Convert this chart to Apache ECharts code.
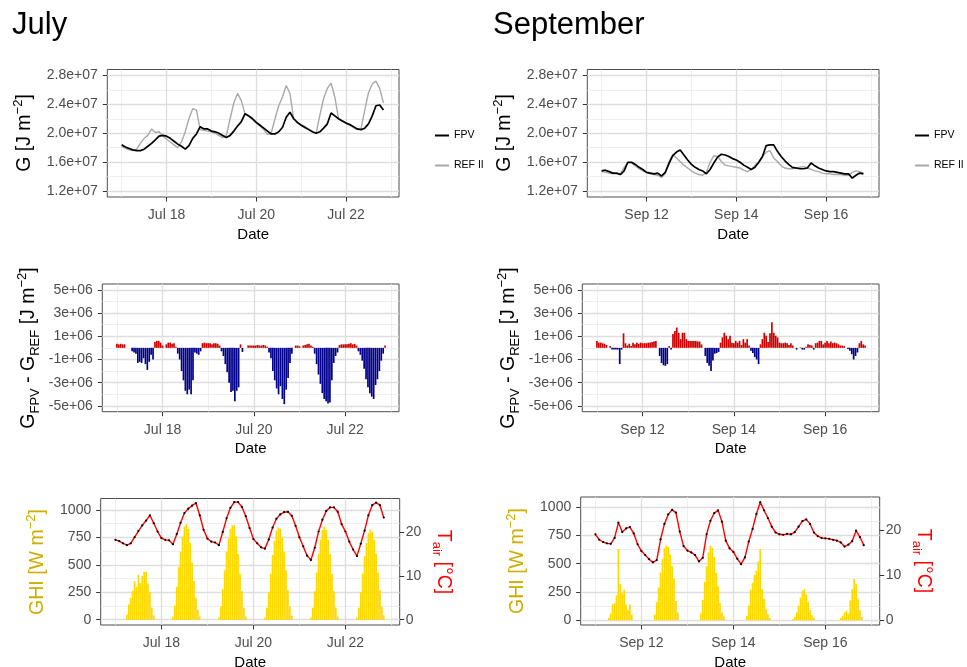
<!DOCTYPE html>
<html>
<head>
<meta charset="utf-8">
<title>FPV heat content, July and September</title>
<script src="https://cdn.jsdelivr.net/npm/echarts@6/dist/echarts.min.js"></script>
<style>
  html, body { margin: 0; padding: 0; background: #ffffff; }
  #chart { width: 967px; height: 667px; }
</style>
</head>
<body>
<div id="chart"></div>
<script>
// ---- time frame: x values are fractional days of the month ----
const julyStart = 17;            // first sample: 17 Jul 00:00
const septStart = 11;            // first sample: 11 Sep 00:00
const julyRange = [16.68, 23.18];
const septRange = [10.68, 17.18];
const julyDateTicks = [18, 20, 22];
const julyDateMinor = [17, 19, 21, 23];
const septDateTicks = [12, 14, 16];
const septDateMinor = [11, 13, 15, 17];

// ---- value axes ----
const gTicks = [1.2e7, 1.6e7, 2.0e7, 2.4e7, 2.8e7];
const gMinor = [1.4e7, 1.8e7, 2.2e7, 2.6e7];
const dTicks = [-5e6, -3e6, -1e6, 1e6, 3e6, 5e6];
const dMinor = [-4e6, -2e6, 0, 2e6, 4e6];
const ghiTicks = [0, 250, 500, 750, 1000];
const ghiMinor = [125, 375, 625, 875];
const tairTicks = [0, 10, 20];

// ---- heat content G [J m-2], two-hourly from 00:00 ----
const julyFPV = [
  1.84e7,1.81e7,1.79e7,1.77e7,1.76e7,1.76e7,1.78e7,1.82e7,1.86e7,1.91e7,1.96e7,1.97e7,
  1.96e7,1.93e7,1.89e7,1.85e7,1.82e7,1.78e7,1.83e7,1.93e7,1.99e7,2.09e7,2.06e7,2.06e7,
  2.03e7,2.02e7,2.00e7,1.97e7,1.94e7,1.97e7,2.03e7,2.10e7,2.16e7,2.27e7,2.24e7,2.20e7,
  2.15e7,2.11e7,2.07e7,2.03e7,1.99e7,1.99e7,2.02e7,2.08e7,2.22e7,2.29e7,2.20e7,2.15e7,
  2.11e7,2.08e7,2.05e7,2.02e7,2.00e7,2.02e7,2.07e7,2.13e7,2.28e7,2.24e7,2.20e7,2.17e7,
  2.14e7,2.12e7,2.09e7,2.06e7,2.05e7,2.07e7,2.13e7,2.24e7,2.38e7,2.39e7,2.32e7
];
const julyREF = [
  1.82e7,1.79e7,1.77e7,1.76e7,1.78e7,1.86e7,1.93e7,1.97e7,2.06e7,2.01e7,2.02e7,1.96e7,
  1.92e7,1.88e7,1.84e7,1.80e7,1.88e7,2.02e7,2.20e7,2.34e7,2.32e7,2.05e7,2.04e7,2.03e7,
  2.02e7,2.00e7,1.97e7,1.94e7,1.97e7,2.20e7,2.42e7,2.55e7,2.45e7,2.26e7,2.23e7,2.19e7,
  2.14e7,2.10e7,2.05e7,1.98e7,2.00e7,2.20e7,2.38e7,2.50e7,2.66e7,2.55e7,2.20e7,2.14e7,
  2.12e7,2.09e7,2.06e7,2.02e7,2.00e7,2.25e7,2.48e7,2.62e7,2.69e7,2.50e7,2.20e7,2.17e7,
  2.14e7,2.11e7,2.08e7,2.05e7,2.06e7,2.32e7,2.56e7,2.68e7,2.72e7,2.62e7,2.42e7
];
const septFPV = [
  1.48e7,1.49e7,1.47e7,1.45e7,1.45e7,1.43e7,1.48e7,1.60e7,1.60e7,1.57e7,1.53e7,1.50e7,
  1.46e7,1.45e7,1.44e7,1.45e7,1.41e7,1.46e7,1.58e7,1.69e7,1.74e7,1.77e7,1.70e7,1.63e7,
  1.57e7,1.53e7,1.50e7,1.48e7,1.44e7,1.50e7,1.59e7,1.67e7,1.71e7,1.70e7,1.68e7,1.65e7,
  1.63e7,1.60e7,1.56e7,1.53e7,1.50e7,1.53e7,1.60e7,1.68e7,1.83e7,1.84e7,1.84e7,1.75e7,
  1.68e7,1.62e7,1.57e7,1.53e7,1.52e7,1.51e7,1.51e7,1.52e7,1.59e7,1.55e7,1.52e7,1.50e7,
  1.48e7,1.47e7,1.47e7,1.46e7,1.45e7,1.44e7,1.44e7,1.38e7,1.42e7,1.45e7,1.44e7
];
const septREF = [
  1.47e7,1.46e7,1.45e7,1.44e7,1.44e7,1.44e7,1.53e7,1.59e7,1.59e7,1.55e7,1.51e7,1.48e7,
  1.46e7,1.44e7,1.43e7,1.42e7,1.39e7,1.44e7,1.61e7,1.70e7,1.66e7,1.61e7,1.56e7,1.52e7,
  1.48e7,1.45e7,1.43e7,1.42e7,1.46e7,1.60e7,1.69e7,1.68e7,1.61e7,1.56e7,1.55e7,1.54e7,
  1.53e7,1.52e7,1.49e7,1.47e7,1.50e7,1.56e7,1.59e7,1.68e7,1.74e7,1.76e7,1.66e7,1.61e7,
  1.55e7,1.52e7,1.51e7,1.51e7,1.52e7,1.53e7,1.54e7,1.52e7,1.50e7,1.48e7,1.47e7,1.45e7,
  1.44e7,1.44e7,1.43e7,1.43e7,1.43e7,1.42e7,1.42e7,1.46e7,1.48e7,1.47e7,1.45e7
];

// ---- G_FPV - G_REF [J m-2], hourly from 00:00 ----
const julyDiff = [
  0.35e6,0.3e6,0.35e6,0.3e6,0.3e6,0,0,0,-0.3e6,-0.4e6,-0.5e6,-1.3e6,-1.2e6,-1.3e6,-0.9e6,-1.4e6,-1.9e6,-1.2e6,-0.6e6,-1.0e6,0.5e6,0.6e6,0.6e6,0.45e6,
  0.2e6,0,0.3e6,0.45e6,0.45e6,0.35e6,0.4e6,0.1e6,-0.5e6,-1.0e6,-2.0e6,-2.8e6,-3.7e6,-4.0e6,-3.6e6,-4.0e6,-2.8e6,-0.4e6,-0.5e6,-0.6e6,-0.3e6,0.4e6,0.45e6,0.4e6,
  0.4e6,0.4e6,0.3e6,0.4e6,0.4e6,0.35e6,0.2e6,-0.3e6,-0.7e6,-1.4e6,-2.1e6,-3.0e6,-3.8e6,-3.7e6,-4.6e6,-3.7e6,-3.4e6,0.3e6,-0.35e6,0,0,0.2e6,0.2e6,0.2e6,
  0.2e6,0.2e6,0.25e6,0.2e6,0.2e6,0.25e6,0.2e6,0.1e6,-0.4e6,-0.9e6,-2.0e6,-2.8e6,-3.5e6,-4.0e6,-3.3e6,-4.4e6,-4.85e6,-3.6e6,-2.6e6,-1.3e6,-0.5e6,0,0.2e6,0.2e6,
  0.15e6,0,0.2e6,0.25e6,0.3e6,0.35e6,0.2e6,0.1e6,-0.5e6,-1.4e6,-2.3e6,-3.1e6,-3.9e6,-4.4e6,-4.6e6,-4.8e6,-4.7e6,-2.8e6,-1.3e6,-0.7e6,-0.4e6,0.25e6,0.3e6,0.3e6,
  0.3e6,0.3e6,0.35e6,0.4e6,0.3e6,0.35e6,0.2e6,-0.3e6,-0.6e6,-1.1e6,-1.8e6,-2.7e6,-3.4e6,-3.9e6,-4.2e6,-4.4e6,-3.2e6,-2.7e6,-2.0e6,-1.1e6,-0.5e6,0.2e6
];
const septDiff = [
  0.6e6,0.45e6,0.45e6,0.4e6,0.35e6,0.25e6,0,0.15e6,-0.15e6,-0.15e6,-0.15e6,-0.15e6,-1.4e6,-0.15e6,1.25e6,0.4e6,0.2e6,0.35e6,0.15e6,0.45e6,0.3e6,0.45e6,0.35e6,0.45e6,
  0.4e6,0.4e6,0.4e6,0.45e6,0.45e6,0.5e6,0.55e6,0.6e6,0,-0.7e6,-1.3e6,-1.5e6,-1.55e6,-1.4e6,0.15e6,-0.15e6,1.2e6,1.45e6,1.75e6,1.3e6,0.75e6,1.3e6,1.3e6,0.75e6,
  0.6e6,0.6e6,0.6e6,0.6e6,0.6e6,0.55e6,0.55e6,0.3e6,0,-0.7e6,-1.3e6,-1.55e6,-2.0e6,-1.1e6,-0.5e6,-0.45e6,-0.35e6,0.45e6,0.9e6,1.3e6,1.05e6,0.75e6,1.05e6,0.45e6,
  0.4e6,0.6e6,0.45e6,0.6e6,0.25e6,0.75e6,0.45e6,0.75e6,0.2e6,-0.25e6,-0.45e6,-0.8e6,-1.0e6,-1.4e6,0.3e6,0.75e6,1.3e6,1.05e6,0.5e6,1.25e6,2.2e6,1.3e6,1.05e6,0.9e6,
  0.45e6,0.4e6,0.4e6,0.45e6,0.4e6,0.25e6,0.4e6,0.2e6,0,-0.15e6,0,0.05e6,-0.15e6,-0.15e6,0.1e6,0.3e6,0.25e6,0.2e6,-0.15e6,0.4e6,0.45e6,0.6e6,0.6e6,0.3e6,
  0.45e6,0.6e6,0.4e6,0.55e6,0.4e6,0.45e6,0.4e6,0.3e6,0.2e6,0.2e6,0.15e6,0,-0.1e6,-0.25e6,-0.55e6,-1.0e6,-0.7e6,-0.4e6,0.4e6,0.6e6,0.3e6,0.2e6
];

// ---- global horizontal irradiance GHI [W m-2], hourly from 00:00 ----
const julyGHI = [
  0,0,0,0,0,0,45,140,200,265,350,300,410,335,400,435,440,330,250,110,40,0,0,0,
  0,0,0,0,0,0,30,130,300,480,620,760,850,870,830,700,520,350,200,90,30,0,0,0,
  0,0,0,0,0,0,20,120,280,450,620,740,830,860,860,760,600,420,260,110,30,0,0,0,
  0,0,0,0,0,0,20,110,250,420,590,720,810,840,830,750,620,450,270,120,40,0,0,0,
  0,0,0,0,0,0,20,110,260,430,600,730,820,850,820,730,600,420,260,110,30,0,0,0,
  0,0,0,0,0,0,20,110,250,420,580,700,790,820,800,730,600,430,270,120,40,0
];
const septGHI = [
  0,0,0,0,0,0,0,20,60,140,150,220,630,320,240,270,140,90,140,50,0,0,0,0,
  0,0,0,0,0,0,0,50,160,290,420,540,640,660,650,580,480,370,170,70,0,0,0,0,
  0,0,0,0,0,0,0,60,180,340,480,600,660,640,560,420,300,150,70,35,0,0,0,0,
  0,0,0,0,0,0,0,40,130,270,330,400,440,520,630,275,190,100,55,20,0,0,0,0,
  0,0,0,0,0,0,0,10,30,70,130,200,260,275,230,160,90,45,20,0,0,0,0,0,
  0,0,0,0,0,0,0,0,20,40,70,85,60,175,275,365,320,190,90,30,0,0
];

// ---- air temperature T_air [°C], two-hourly from 00:00 ----
const julyTair = [
  18.2,17.9,17.4,17.0,17.4,18.8,20.2,21.5,22.6,23.8,22.0,20.1,
  18.6,18.2,18.1,17.2,19.5,22.1,24.3,25.3,26.0,26.6,23.8,20.5,
  18.5,17.8,17.6,17.0,20.0,23.1,25.5,26.8,26.8,25.7,23.6,20.9,
  18.4,17.4,16.5,16.2,18.3,21.0,23.0,24.0,24.5,24.6,23.7,21.4,
  18.8,16.7,14.6,13.6,16.4,20.1,22.8,24.8,25.6,25.6,24.6,21.8,
  20.1,17.8,16.0,14.5,17.3,20.3,23.8,26.1,26.7,26.1,23.3
];
const septTair = [
  19.0,17.8,17.3,17.0,16.9,18.2,21.6,19.5,20.3,20.6,19.2,16.8,
  15.3,14.4,13.5,12.8,13.3,17.9,21.3,23.4,24.4,23.8,19.6,16.4,
  15.4,15.0,14.4,13.0,13.8,19.0,22.0,23.7,24.3,21.8,17.6,15.9,
  15.1,13.6,12.4,13.9,17.4,20.2,23.5,26.1,24.3,22.6,20.7,19.4,
  19.0,18.9,19.1,19.0,19.5,20.7,21.9,22.3,21.3,19.4,18.6,18.2,
  18.1,18.0,17.8,17.6,17.2,16.3,16.7,17.5,19.8,18.4,16.6
];

// ---- styling ----
const FONT = '"Liberation Sans", Arial, Helvetica, sans-serif';
const TICK = '#333333';
const LABEL = '#4d4d4d';
const MAJOR = { color: '#dedede', width: 1.3, type: 'solid' };
const MINOR = { color: '#ebebeb', width: 0.8, type: 'solid' };
const POS = '#cd0000';
const NEG = '#00008b';
const GOLD = '#ffd700';
const GHI_TITLE = '#cdad00';

// pair each sample with its time (fractional day)
function at(start, stepHours, values) {
  return values.map((v, i) => [start + i * stepHours / 24, v]);
}

const panels = [
  { left: 107.3, top: 69.5,  width: 291.7, height: 127.5 },   // July G
  { left: 587.3, top: 69.5,  width: 291.7, height: 127.5 },   // Sept G
  { left: 102.3, top: 284,   width: 296.7, height: 127.7 },   // July diff
  { left: 582.3, top: 284,   width: 296.7, height: 127.7 },   // Sept diff
  { left: 100.7, top: 498.5, width: 299,   height: 126.5 },   // July GHI / Tair
  { left: 580.7, top: 497,   width: 299,   height: 128 }      // Sept GHI / Tair
];

function dateAxis(gridIndex, range, ticks, month) {
  return {
    type: 'value', gridIndex, min: range[0], max: range[1],
    name: 'Date', nameLocation: 'middle', nameGap: 30,
    nameTextStyle: { color: '#000', fontSize: 15, fontFamily: FONT },
    axisLine: { show: false, onZero: false },
    axisTick: { show: true, length: 4.5, lineStyle: { color: TICK, width: 1 }, customValues: ticks },
    axisLabel: { show: true, customValues: ticks, formatter: v => month + ' ' + Math.round(v),
                 color: LABEL, fontSize: 14, fontFamily: FONT, margin: 11 },
    splitLine: { show: false }, minorSplitLine: { show: false }
  };
}

function valueAxis(gridIndex, min, max, ticks, fmt, position, margin) {
  return {
    type: 'value', gridIndex, min, max, position,
    axisLine: { show: false, onZero: false },
    axisTick: { show: true, length: 4.5, lineStyle: { color: TICK, width: 1 }, customValues: ticks },
    axisLabel: { show: true, customValues: ticks, formatter: fmt,
                 color: LABEL, fontSize: 14, fontFamily: FONT, margin },
    splitLine: { show: false }, minorSplitLine: { show: false }
  };
}

const fmtG = v => (v / 1e7).toFixed(1) + 'e+07';
const fmtD = v => (v === 0 ? '0' : Math.round(v / 1e6) + 'e+06');
const fmtN = v => String(Math.round(v));

// panel grid lines, drawn beneath the data
function gridLines(axisIndex, yIndex, xMajor, xMinor, yMajor, yMinor) {
  const items = []
    .concat(xMinor.map(v => ({ xAxis: v, lineStyle: MINOR })))
    .concat(yMinor.map(v => ({ yAxis: v, lineStyle: MINOR })))
    .concat(xMajor.map(v => ({ xAxis: v, lineStyle: MAJOR })))
    .concat(yMajor.map(v => ({ yAxis: v, lineStyle: MAJOR })));
  return {
    type: 'line', xAxisIndex: axisIndex, yAxisIndex: yIndex, data: [], z: 1, silent: true,
    markLine: { silent: true, z: 1, symbol: ['none', 'none'], label: { show: false },
                emphasis: { disabled: true }, animation: false, data: items }
  };
}

function gLine(name, xi, data, color, width, z) {
  return { type: 'line', name, xAxisIndex: xi, yAxisIndex: xi, data, z, color,
           showSymbol: false, symbol: 'none', silent: true,
           lineStyle: { color, width }, emphasis: { disabled: true } };
}

function diffBars(name, xi, data) {
  return { type: 'bar', name, xAxisIndex: xi, yAxisIndex: xi, data, z: 3, barWidth: 1.7, silent: true,
           itemStyle: { color: p => (p.value[1] >= 0 ? POS : NEG) }, emphasis: { disabled: true } };
}

function ghiBars(name, xi, data) {
  return { type: 'bar', name, xAxisIndex: xi, yAxisIndex: xi, data, z: 3, barWidth: 1.7, silent: true,
           itemStyle: { color: GOLD }, emphasis: { disabled: true } };
}

function tairLine(name, xi, yi, data) {
  return { type: 'line', name, xAxisIndex: xi, yAxisIndex: yi, data, z: 4, color: '#ff0000',
           symbol: 'circle', symbolSize: 2.2, showSymbol: true, showAllSymbol: true, silent: true,
           lineStyle: { color: '#ff0000', width: 1.4 }, itemStyle: { color: '#000000' },
           emphasis: { disabled: true } };
}

// rotated axis titles with sub/superscripts
const RICH = (fill) => ({
  m: { fontSize: 19.5, lineHeight: 26, fontFamily: FONT, fill, verticalAlign: 'middle' },
  s: { fontSize: 13, lineHeight: 13, fontFamily: FONT, fill, verticalAlign: 'top' },
  b: { fontSize: 13, lineHeight: 13, fontFamily: FONT, fill, verticalAlign: 'bottom' }
});
function title(x, y, text, fill, rotation) {
  return { type: 'text', x, y, rotation, silent: true, z: 10,
           style: { text, rich: RICH(fill), align: 'center', verticalAlign: 'middle',
                    fill, fontFamily: FONT, fontSize: 19.5 } };
}
function heading(x, y, text) {
  return { type: 'text', x, y, silent: true, z: 10,
           style: { text, fill: '#000', fontFamily: FONT, fontSize: 31,
                    align: 'left', verticalAlign: 'middle' } };
}

const G_TITLE = '{m|G [J m}{s|\u22122}{m|]}';
const D_TITLE = '{m|G}{b|FPV}{m| - G}{b|REF}{m| [J m}{s|\u22122}{m|]}';
const GHI_TEXT = '{m|GHI [W m}{s|\u22122}{m|]}';
const T_TEXT = '{m|T}{b|air}{m| [\u00B0C]}';

const legendBase = {
  data: ['FPV', 'REF II'], orient: 'vertical', top: 125, itemWidth: 14, itemHeight: 2,
  itemGap: 19, icon: 'rect', selectedMode: false,
  textStyle: { fontSize: 10.5, color: '#000', fontFamily: FONT }
};

const option = {
  animation: false,
  backgroundColor: '#ffffff',
  textStyle: { fontFamily: FONT },
  grid: panels.map(p => Object.assign({ show: true, borderColor: '#4d4d4d', borderWidth: 1,
                                        backgroundColor: 'transparent', containLabel: false,
                                        outerBoundsMode: 'none' }, p)),
  xAxis: [
    dateAxis(0, julyRange, julyDateTicks, 'Jul'),
    dateAxis(1, septRange, septDateTicks, 'Sep'),
    dateAxis(2, julyRange, julyDateTicks, 'Jul'),
    dateAxis(3, septRange, septDateTicks, 'Sep'),
    dateAxis(4, julyRange, julyDateTicks, 'Jul'),
    dateAxis(5, septRange, septDateTicks, 'Sep')
  ],
  yAxis: [
    valueAxis(0, 1.12e7, 2.88e7, gTicks, fmtG, 'left', 9.5),
    valueAxis(1, 1.12e7, 2.88e7, gTicks, fmtG, 'left', 9.5),
    valueAxis(2, -5.5e6, 5.5e6, dTicks, fmtD, 'left', 9.5),
    valueAxis(3, -5.5e6, 5.5e6, dTicks, fmtD, 'left', 9.5),
    valueAxis(4, -48, 1105, ghiTicks, fmtN, 'left', 9.5),
    valueAxis(5, -42, 1090, ghiTicks, fmtN, 'left', 9.5),
    valueAxis(4, -48 / 40, 1105 / 40, tairTicks, fmtN, 'right', 6),
    valueAxis(5, -42 / 40, 1090 / 40, tairTicks, fmtN, 'right', 6)
  ],
  legend: [
    Object.assign({}, legendBase, { left: 430 }),
    Object.assign({}, legendBase, { left: 910 })
  ],
  series: [
    gridLines(0, 0, julyDateTicks, julyDateMinor, gTicks, gMinor),
    gridLines(1, 1, septDateTicks, septDateMinor, gTicks, gMinor),
    gridLines(2, 2, julyDateTicks, julyDateMinor, dTicks, dMinor),
    gridLines(3, 3, septDateTicks, septDateMinor, dTicks, dMinor),
    gridLines(4, 4, julyDateTicks, julyDateMinor, ghiTicks, ghiMinor),
    gridLines(5, 5, septDateTicks, septDateMinor, ghiTicks, ghiMinor),

    gLine('REF II', 0, at(julyStart, 2, julyREF), '#a9a9a9', 1.4, 3),
    gLine('FPV', 0, at(julyStart, 2, julyFPV), '#000000', 1.7, 4),
    gLine('REF II', 1, at(septStart, 2, septREF), '#a9a9a9', 1.4, 3),
    gLine('FPV', 1, at(septStart, 2, septFPV), '#000000', 1.7, 4),

    diffBars('G_FPV - G_REF Jul', 2, at(julyStart, 1, julyDiff)),
    diffBars('G_FPV - G_REF Sep', 3, at(septStart, 1, septDiff)),

    ghiBars('GHI Jul', 4, at(julyStart, 1, julyGHI)),
    ghiBars('GHI Sep', 5, at(septStart, 1, septGHI)),
    tairLine('Tair Jul', 4, 6, at(julyStart, 2, julyTair)),
    tairLine('Tair Sep', 5, 7, at(septStart, 2, septTair))
  ],
  graphic: [
    heading(12, 25, 'July'),
    heading(493, 25, 'September'),
    title(24.5, 133, G_TITLE, '#000000', Math.PI / 2),
    title(505, 133, G_TITLE, '#000000', Math.PI / 2),
    title(28.5, 348, D_TITLE, '#000000', Math.PI / 2),
    title(508.5, 348, D_TITLE, '#000000', Math.PI / 2),
    title(37.5, 562, GHI_TEXT, GHI_TITLE, Math.PI / 2),
    title(517.5, 561, GHI_TEXT, GHI_TITLE, Math.PI / 2),
    title(443.5, 562, T_TEXT, '#ff0000', -Math.PI / 2),
    title(923.5, 561, T_TEXT, '#ff0000', -Math.PI / 2)
  ]
};

const chart = echarts.init(document.getElementById('chart'), null, { renderer: 'canvas' });
chart.setOption(option);
</script>
</body>
</html>
